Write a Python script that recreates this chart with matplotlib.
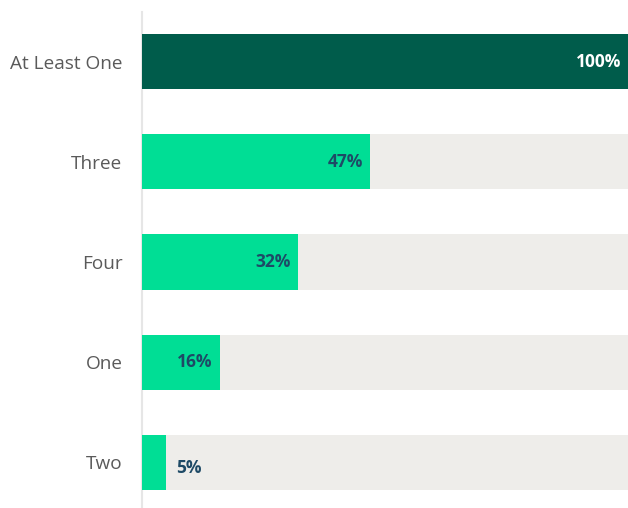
import matplotlib.pyplot as plt

# data
labels = ["At Least One", "Three", "Four", "One", "Two"]
values = [100, 47, 32, 16, 5]

dark_green = "#005C4B"
bright_green = "#00DE95"
track_gray = "#EEEDEA"
label_color = "#5A5A5A"
value_color = "#1E4A66"

fig = plt.figure(figsize=(6.28, 5.08), dpi=100)
ax = fig.add_axes([142 / 628, 0, 486 / 628, 496 / 508])

y = list(range(len(labels)))
colors = [dark_green] + [bright_green] * (len(values) - 1)

# gray background tracks
ax.barh(y, [100] * len(values), height=0.55, color=track_gray, zorder=1)
ax.barh(y, values, height=0.55, color=colors, zorder=2)

for i, v in enumerate(values):
    if v >= 10:
        c = "white" if i == 0 else value_color
        ax.annotate(f"{v}%", (v, i), xytext=(-5, 0), textcoords="offset points",
                    ha="right", va="center", color=c, fontsize=12.5,
                    fontweight="bold", family="Open Sans", zorder=3)
    else:
        ax.annotate(f"{v}%", (v, i), xytext=(7, -4), textcoords="offset points",
                    ha="left", va="center", color=value_color, fontsize=12.5,
                    fontweight="bold", family="Open Sans", zorder=3)

ax.set_xlim(0, 100)
ax.set_ylim(4.455, -0.495)
ax.set_yticks(y)
ax.set_yticklabels(labels, fontsize=13.7, color=label_color, family="Open Sans")
ax.tick_params(axis="y", length=0, pad=14)
ax.set_xticks([])
for s in ["top", "right", "bottom"]:
    ax.spines[s].set_visible(False)
ax.spines["left"].set_color("#E6E6E6")
ax.spines["left"].set_linewidth(1.5)
ax.spines["left"].set_zorder(0)

fig.savefig("out.png", dpi=100)
